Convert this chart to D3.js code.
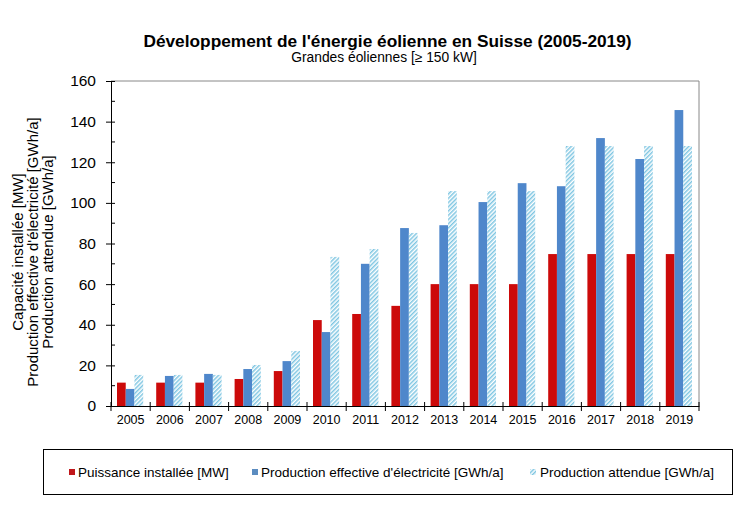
<!DOCTYPE html>
<html>
<head>
<meta charset="utf-8">
<script src="https://cdn.jsdelivr.net/npm/d3@7"></script>
<style>
  body { margin: 0; background: #fff; }
  svg text { font-family: "Liberation Sans", Arial, sans-serif; fill: #000; }
</style>
</head>
<body>
<div id="chart"></div>
<script>
// data
const years = ['2005', '2006', '2007', '2008', '2009', '2010', '2011', '2012',
    '2013', '2014', '2015', '2016', '2017', '2018', '2019'];
const puissance = [11.5, 11.5, 11.5, 13.3, 17.2, 42.3, 45.3, 49.3, 60, 60, 60, 74.8, 74.8, 74.8, 74.8];
const productionEffective = [8.4, 14.8, 15.8, 18.2, 22.1, 36.4, 70, 87.6, 89, 100.4, 109.7, 108.2, 131.9, 121.6, 145.7];
const productionAttendue = [15.3, 15.3, 15.3, 20.2, 27.1, 73.4, 77.3, 85.2, 105.8, 105.8, 105.8, 128, 128, 128, 128];
const seriesNames = ['Puissance installée [MW]', "Production effective d'électricité [GWh/a]", 'Production attendue [GWh/a]'];
const yTicks = [0, 20, 40, 60, 80, 100, 120, 140, 160];

const W = 751, H = 516;
const margin = {top: 81, right: 52, bottom: 110, left: 111};
const width = W - margin.left - margin.right;
const height = H - margin.top - margin.bottom;

const svg = d3.select('#chart').append('svg')
    .attr('width', W)
    .attr('height', H);

// hatch pattern for expected production
const defs = svg.append('defs');
const pat = defs.append('pattern')
    .attr('id', 'hatch')
    .attr('patternUnits', 'userSpaceOnUse')
    .attr('width', 3)
    .attr('height', 3)
    .attr('patternTransform', 'rotate(45)');
pat.append('rect').attr('width', 3).attr('height', 3).attr('fill', '#ffffff');
pat.append('rect').attr('width', 1.5).attr('height', 3).attr('fill', '#7fc6e2');

const g = svg.append('g')
    .attr('transform', 'translate(' + margin.left + ',' + margin.top + ')');

const x = d3.scaleBand().domain(years).range([0, width]);
const keys = ['p', 'e', 'a'];
const xInner = d3.scaleBand().domain(keys).range([6, x.bandwidth() - 7]);
const y = d3.scaleLinear().domain([0, 160]).range([height, 0]);

const colors = {p: '#cc0a0a', e: '#4f87cb', a: 'url(#hatch)'};

// frame top/right
g.append('line').attr('x1', 0).attr('x2', width).attr('y1', 0).attr('y2', 0)
    .attr('stroke', '#888').attr('stroke-width', 1);
g.append('line').attr('x1', width).attr('x2', width).attr('y1', 0).attr('y2', height)
    .attr('stroke', '#888').attr('stroke-width', 1);

// bars
const rows = years.map((yr, i) => ({year: yr, p: puissance[i], e: productionEffective[i], a: productionAttendue[i]}));
const groups = g.selectAll('.grp')
    .data(rows)
    .enter().append('g')
    .attr('class', 'grp')
    .attr('transform', d => 'translate(' + x(d.year) + ',0)');

groups.selectAll('rect')
    .data(d => keys.map(k => ({key: k, value: d[k]})))
    .enter().append('rect')
    .attr('x', d => xInner(d.key))
    .attr('width', xInner.bandwidth())
    .attr('y', d => y(d.value))
    .attr('height', d => height - y(d.value))
    .attr('fill', d => colors[d.key]);

// y axis with minor ticks
const yAxis = g.append('g')
    .call(d3.axisLeft(y).tickValues(yTicks).tickSize(5).tickPadding(10).tickSizeOuter(0));
yAxis.selectAll('.tick line').attr('x2', -5).attr('x1', 4);
yAxis.selectAll('text').style('font-size', '15.5px');
yAxis.select('.domain').attr('stroke', '#000');
g.append('g')
    .selectAll('line')
    .data(d3.range(10, 160, 20))
    .enter().append('line')
    .attr('x1', 0).attr('x2', 4)
    .attr('y1', d => y(d)).attr('y2', d => y(d))
    .attr('stroke', '#000');

// x axis
const xAxis = g.append('g')
    .attr('transform', 'translate(0,' + height + ')')
    .call(d3.axisBottom(x).tickSize(0).tickPadding(9).tickSizeOuter(0));
xAxis.selectAll('text').style('font-size', '12.5px');
xAxis.select('.domain').attr('stroke', '#000');
g.append('g')
    .selectAll('line')
    .data(d3.range(0, years.length + 1))
    .enter().append('line')
    .attr('x1', i => i * x.step()).attr('x2', i => i * x.step())
    .attr('y1', height - 4).attr('y2', height + 5)
    .attr('stroke', '#000');

// titles
svg.append('text')
    .attr('x', 387.5).attr('y', 47)
    .attr('text-anchor', 'middle')
    .style('font-size', '17.3px').style('font-weight', 'bold')
    .text("Développement de l'énergie éolienne en Suisse (2005-2019)");
svg.append('text')
    .attr('x', 384).attr('y', 62)
    .attr('text-anchor', 'middle')
    .style('font-size', '13.8px')
    .text('Grandes éoliennes [≥ 150 kW]');

// y axis title, three lines
const yTitle = ['Capacité installée [MW]', "Production effective d'électricité [GWh/a]", 'Production attendue [GWh/a]'];
svg.append('g')
    .selectAll('text')
    .data(yTitle)
    .enter().append('text')
    .attr('transform', (d, i) => 'translate(' + (23 + i * 15) + ',' + 252 + ') rotate(-90)')
    .attr('text-anchor', 'middle')
    .style('font-size', '15px')
    .text(d => d);

// legend
svg.append('rect')
    .attr('x', 43.5).attr('y', 449.5)
    .attr('width', 689).attr('height', 45)
    .attr('fill', 'none').attr('stroke', '#000');

const legendX = [69, 252, 530];
const leg = svg.append('g')
    .selectAll('g')
    .data(seriesNames)
    .enter().append('g')
    .attr('transform', (d, i) => 'translate(' + legendX[i] + ',472)');
leg.append('rect')
    .attr('x', 0).attr('y', -3)
    .attr('width', 6).attr('height', 6)
    .attr('fill', (d, i) => i === 0 ? '#c0171b' : i === 1 ? '#5b8cc0' : 'url(#hatch)');
leg.append('text')
    .attr('x', (d, i) => i === 2 ? 10 : 9)
    .attr('dy', '0.35em')
    .style('font-size', '13.5px')
    .text(d => d);
</script>
</body>
</html>
